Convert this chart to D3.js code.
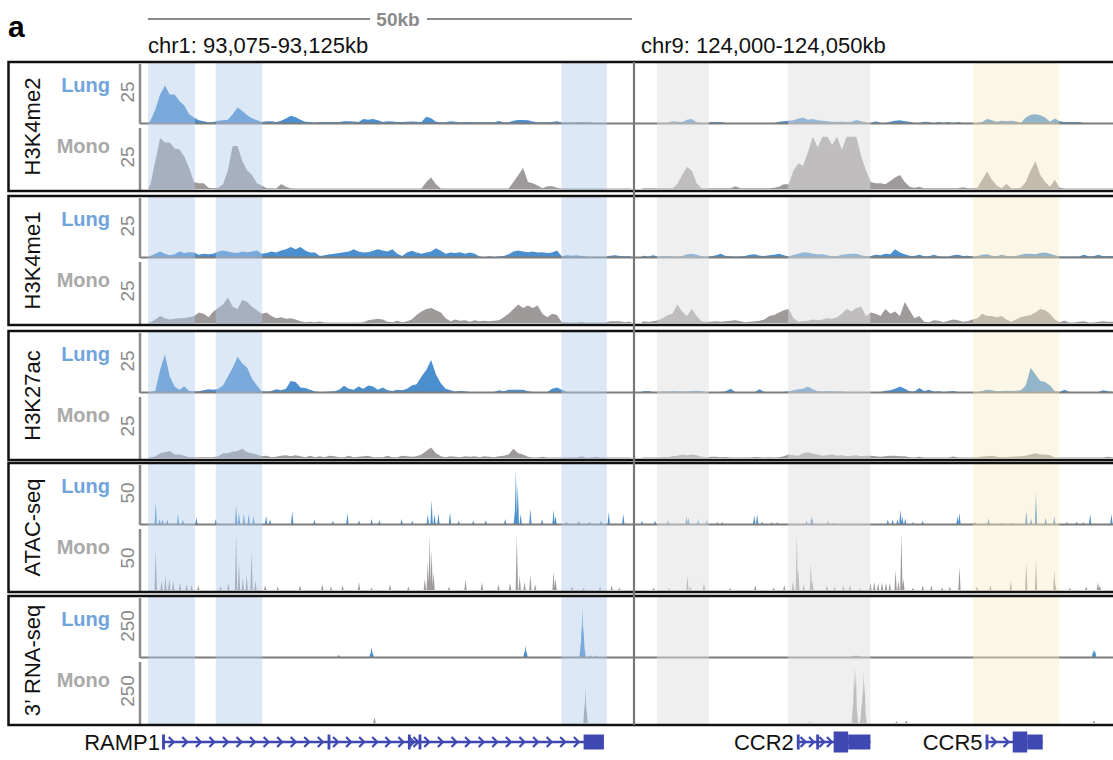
<!DOCTYPE html>
<html>
<head>
<meta charset="utf-8">
<script src="https://cdn.jsdelivr.net/npm/d3@7"></script>
<style>
body { margin: 0; background: #fff; }
svg { display: block; font-family: "Liberation Sans", Arial, Helvetica, sans-serif; }
</style>
</head>
<body>
<svg id="chart" width="1113" height="760"></svg>
<script>
// ---- data (kb offsets inside each 50kb window, 0.5kb bins for ChIP) ----
var regionNames = ["chr1: 93,075-93,125kb", "chr9: 124,000-124,050kb"];
var trackNames = ["H3K4me2", "H3K4me1", "H3K27ac", "ATAC-seq", "3\u2019 RNA-seq"];
var trackMax = [25, 25, 25, 50, 250];
var sampleNames = ["Lung", "Mono"];

var h3k4me2LungL = [1,6,13,17,13,13,10,8,4,2.5, 1.2,0.8,0.3,0.5,1,1.2,1.5,4,7,5.5, 3.5,2.2,1.2,0.5,0.8,0.8,0.5,1,2,3.3, 2.6,1.5,0.6,0.5,0.2,0.4,0.5,0.5,0.5,0.5, 0.8,0.8,0.7,0.5,1.8,1.5,1.8,1.2,0.5,0.8, 0.7,0.4,0.5,0.6,0.7,0.6,0.5,2.8,2.2,0.6, 0.3,0.3,0.8,0.6,0.3,0.5,0.5,0.3,0.4,0.3, 0.4,0.3,0.9,0.3,0.3,1,1.4,1.4,1.2,0.7, 0.3,0.3,0.3,0.5,0.8,0.2,0.2,0.2,0.3,0.3, 0.3,0.2,0,0,0,0,0,0,0,0];
var h3k4me2MonoL = [2,12,22,20,20,17.5,17,14,9,3, 2.5,2.5,0.5,0.3,0.5,2,8,18.5,18.5,12, 8,6,2.5,1.5,0.3,0.3,0.2,2.2,1,0.3, 0.2,0.2,0.2,0.2,0.2,0.2,0.2,0.2,0.2,0.2, 0.2,0.2,0.2,0.2,0.2,0.2,0.2,0.2,0.2,0.2, 0.2,0.2,0.2,0.2,0.2,0.2,0.2,3,5,2, 0.2,0.2,0.2,0.2,0.2,0.2,0.2,0.2,0.2,0.2, 0.2,0.2,0.2,0.2,0.2,3,6,9,3,2.5, 1.5,0.3,1.2,1.2,0.5,0.2,0.2,0.2,0.2,0.2, 0.2,0.2,0.2,0.2,0.2,0.2,0.2,0.2,0.2,0.2];
var h3k4me2LungR = [0,0,0,0,0,0,0.8,0.6,0.5,1.5, 1.8,0.3,0,0,0.5,0.5,0.5,0,0,0, 0,0,0,0,0,0,0,0,0.6,0.8, 1,1.2,2,2.5,1.5,1.8,1.2,1,0.8,0.6, 0.5,0.6,0.4,0.6,1.4,0.8,0.2,0,0.8,0, 0,0.6,1,1.2,0.8,0.6,0,0,0.6,0.4, 0,0.5,0,0.5,0,0.4,0,0,0,0, 0.5,1.8,1.2,0.6,1,0.8,1,0.7,0,2.5, 3.8,4,3.5,2.5,0.6,2,0.8,0.5,0.4,0.4, 0.4,0,0,0,0,0,0,0,0,0];
var h3k4me2MonoR = [0.3,0.3,0.3,0.3,0.3,0.3,0.3,2,6,9.5, 8,2.5,0.3,0.3,0.3,0.3,0.3,0.3,0.3,1.2, 0.3,0.3,0.3,0.3,0.3,0.3,0.3,0.5,1,2, 2,8,11,10,16,22.5,18,22.5,22.5,19, 22.5,17,22.5,22.5,22.5,14,8,3,2.5,2.5, 2,3.5,5,6,3,1,0.5,1,0.3,0.3, 0.3,0.3,0.3,0.3,0.3,0.3,0.8,0.3,0.3,0.5, 4,7.5,4,1.5,0.3,2.2,0.3,0.3,0.5,3, 8,12,6,3,1,4,0.5,0.2,0.2,0.2, 0.2,0.2,0.2,0.2,0.2,0.2,0.2,0.2,0.2,0.2];

var h3k4me1LungL = [0.4,1.5,2.5,1.5,0.8,1.2,2.5,1.8,2.2,2, 1,1.5,1.2,1.5,2.5,3,2.5,2,1.8,2.5, 2.2,2.5,3,1.5,1.8,2.5,2,3,3.5,4.5, 3.5,4.5,3,2,2,0.5,0.8,1.2,1.5,1.8, 2.2,2.5,3.5,2.5,2,2.2,2.8,3.5,3,2.5, 3.5,1.5,0.5,2,2.8,2,1.5,2,2.5,4, 2.8,1.5,2,1.8,2.2,1.5,2,1.5,0.2,0, 0.3,0,0.3,0.5,1.2,2.5,3,2.5,2.2,2.5, 2,2.2,1.8,2,3,0.3,0.8,0.6,0.8,0.5, 0.2,0.1,0.1,0.1,0.1,0.6,0.8,0.5,0.3,0.5];
var h3k4me1MonoL = [0.3,1.5,3,2,1.5,1.8,2,2.2,2.5,3, 4.5,4,2.5,5,6.5,8,11,7,6,10, 9,7,5.5,4,4.5,3,2,2.5,1.8,2, 1.5,0.8,0.3,0.5,0.3,0.6,0.2,0.2,0.2,0.2, 0.2,0.2,0.2,0.2,0.3,1.2,1.5,1.8,1.5,0.5, 0.3,1,0.3,0.8,1.5,3.5,5,6,6.5,5.5, 4.5,2,0.8,1.5,1,1.2,0.5,1.2,0.8,1, 0.8,1,1.2,2.5,4,6,8,6.5,7.5,6.5, 7.5,4,2.5,4,3.5,0.3,0.3,0.2,0.2,0.4, 0.2,0.2,0.2,0.2,0.2,0.8,0.8,0.8,0.3,0.6];
var h3k4me1LungR = [0.6,0.2,0.8,0.2,0.4,0.5,0.3,0.2,0.5,1.2, 1.5,1,0.3,0.2,0.3,0.8,1.5,0.4,0.3,0.2, 0.3,0.5,1,1.2,0.6,0.5,0.8,1,1.5,0.8, 0.2,1,1.5,2.2,2,1.5,1.2,1.2,0.8,0.3, 0.3,1,1.2,1.5,1.5,0.8,0.3,0.5,1,0.8, 1.5,1.2,3.5,2,1.2,0.6,0.5,1,0.3,0.3, 1,0.3,0.2,0.2,0.8,1,0.5,0.6,0.2,0.4, 1,1.2,0.6,0.3,1,0.5,0.3,0.5,1,1.5, 1.5,1.2,1.8,2,1.5,0.8,0.2,0.2,0.2,0.2, 0.2,1,0.3,0.3,1,0.3,0.5,0.5,0,0];
var h3k4me1MonoR = [0.8,0.4,0.8,1.2,2,3.5,4,8,5,3, 6,3,0.8,0.5,0.5,0.8,0.5,0.8,1,1.2, 0.8,0.3,0.5,0.8,1,1.5,3,3.5,4.5,5.5, 6,2,0.5,0.8,1,1.5,1.2,1.5,2,1.8, 2.5,4,6,5,6.5,7,3,4.5,4,3, 6,4,5,3,9,5.5,2,3,0.5,0.3, 1.2,1,0.3,1,1.5,1.2,0.5,0.8,1.5,2, 4,3,3,2.5,3,1.5,0.5,1.5,2.5,3, 3.5,4.5,6,5.5,4,1.5,0.3,1,0.2,0.2, 0.5,0.8,0.2,0.2,0.5,0.8,0.5,0.5,0,0];

var h3k27acLungL = [0,0.5,10,17,7,2.5,1,2.5,0.5,0.3, 0.3,0.8,1.2,1,1.5,3,7,11,16,13, 11,6,3,0.3,0.2,0.5,1.2,0.8,1.5,5, 4.5,2,1.8,1,0.2,0,0,0.2,0.3,1, 2.8,1.5,1,2.5,1.5,3,2.5,1,2,0.8, 0.5,1,0.8,1.5,3,3.5,7,10,14.5,8, 4,1.5,0.8,0.2,0.5,0.3,0,0,0,0, 0,0,0.8,0.3,1,1,1,1,0.3,0, 0,0,0,1.5,2,1,0,0,0,0, 0,0,0,0,0,0,0,0,0,0];
var h3k27acMonoL = [0.3,0.6,2,2.5,3,1.5,1.5,1,0.3,0.3, 0.3,0.3,0.3,0.3,0.8,2,2,2.8,3,4, 2.5,2,1.5,0.8,1,0.3,0.5,1,1.2,0.8, 1.2,0.8,0.3,1,0.3,0.8,0.3,1,0.8,0.3, 0.3,1,0.3,0.5,0.8,1,0.3,0.3,0.3,1, 0.3,0.3,1,0.8,0.5,0.8,1.5,3,4.5,2, 0.8,0.3,0.8,0.5,0.3,0.8,0.5,0.8,0.3,0.8, 0.5,0.3,0.8,1,1.5,4,2,1.5,0.5,0.2, 0.2,0.5,0.2,0.2,0.2,0.2,0.2,0.3,0.2,0.8, 0.2,0.2,0.5,0.2,0.2,0.2,0.2,0.2,0.2,0.2];
var h3k27acLungR = [0.3,0.5,0,0,0.3,0.2,0.4,0.3,0.2,0.3, 0.5,0.6,0.4,0,0,0,0,0.3,1.5,0, 0,0,0,0,1.2,0,0,0,0,0, 0.3,0.8,1.2,1.5,2.5,1.2,0.3,0.2,0.4,0.3, 0.2,0.2,0,0,0,0,0,0,0,0, 0.6,0.8,1.5,2.5,1.5,0.3,0.2,1.8,0.5,1, 0.2,0.3,0,0.2,0.5,0,0,0,0,0, 0.4,1,0.8,0.3,0.5,0.6,0.5,0.6,0.8,3, 11,8,5,4.5,3,0.3,0,1,0,0, 0,0,0,0,0,0.8,0.3,0,0,0];
var h3k27acMonoR = [0.2,0.2,0.2,0.2,0.4,0.3,0.8,1,1.5,1.2, 1.5,1.2,0.5,0.3,0.5,0.5,0.3,0.4,0.2,0.2, 0.2,0.2,0.2,0.4,0.3,0.2,0.3,0.2,0.3,0.8, 1.5,1.2,1,2,2.5,1.8,1.5,1,1.2,1.5, 1,1.2,0.8,1,1.2,0.8,1,1,0.8,0.5, 0.8,1,1,0.8,0.8,0.3,0.2,0.5,0.2,0.2, 0.2,0.2,0.2,0.2,0.6,0.2,0.2,0.2,0.2,0.3, 0.6,0.8,1,0.5,0.3,0.3,0.5,0.6,0.8,1, 1.5,2,1.5,1.5,1.2,0.2,0.2,0.2,0.2,0.2, 0.2,0.2,0.2,0.2,0.2,0.2,0.5,0.2,0.2,0.2];

// ATAC and RNA: [kb, value] peaks
var atacLungL = [[0.8,20],[1.2,4.5],[1.5,4.5],[2.0,4],[3.1,9],[3.6,4],[5.0,6],[7.0,4.5],[9.1,18],[9.4,10],[9.9,9.5],[10.4,9],[10.9,7],[12.2,7.5],[12.6,4],[14.9,12],[17.2,4],[19.1,3],[20.6,10],[21.8,3.5],[23.1,4.5],[23.9,3.5],[26.2,4.5],[27.3,3],[28.9,9],[29.3,22],[29.6,9],[30.0,10],[31.2,11],[32.1,3],[33.6,3],[34.9,3.5],[36.9,4.5],[37.9,12],[38.0,49],[38.2,36],[38.5,9],[39.5,14],[40.7,4.5],[41.9,13],[42.1,7.5],[43.2,2],[44.5,3],[45.6,2],[46.8,3],[47.6,11],[49.1,9]];
var atacMonoL = [[0.8,36],[1.4,8],[1.8,12],[2.2,10],[2.6,8],[3.3,6],[4.0,5],[4.5,4],[5.2,4],[7.5,3],[8.3,6],[9.1,49],[9.4,25],[9.8,10],[10.2,13],[10.7,33],[11.1,8],[12.1,4],[13.4,3],[15.7,4],[18.0,5],[18.9,3],[20.1,4],[21.8,7],[23.1,2],[25.0,5],[26.9,3],[28.6,10],[28.9,25],[29.1,47],[29.3,35],[29.5,15],[31.1,3],[32.8,9],[34.5,7],[36.2,5],[37.4,6],[38.1,48],[38.4,12],[38.9,7],[39.5,13],[40.0,5],[41.9,16],[42.1,10],[43.8,3],[45.0,2],[46.7,3],[47.9,4],[48.7,2]];
var atacLungR = [[0.1,3],[1.45,3],[2.8,3.5],[4.7,7],[4.9,6],[5.9,4],[6.8,3.5],[7.9,1.5],[8.4,1.5],[11.7,8],[12.0,9],[12.5,2],[13.5,1.5],[14.1,1.5],[17.1,3],[17.6,7],[17.7,5],[19.3,3],[19.9,1],[25.5,4],[26.0,4],[26.5,4],[26.8,13],[27.0,7],[27.3,5],[28.1,1.5],[29.1,3],[32.7,7],[32.9,10],[34.5,1.5],[35.9,5],[37.3,1],[38.3,1],[39.8,12],[40.3,5],[40.8,29],[41.8,6],[42.7,7],[44.0,1.5],[45.0,2],[45.7,1.5],[46.4,9],[48.6,9]];
var atacMonoR = [[1.3,2],[2.9,1.5],[4.8,12],[5.1,3],[6.5,6],[9.2,1.5],[11.8,4],[13.7,2],[14.8,4],[15.7,8],[16.1,48],[16.25,18],[16.8,5],[17.55,23],[17.7,8],[19.2,4],[20.0,3],[20.9,4],[21.6,4],[22.6,2],[23.7,6],[24.1,7],[24.5,6],[24.9,7],[25.3,6],[25.7,6],[26.3,17],[26.6,8],[26.9,49],[27.1,10],[28.1,2],[29.1,4],[30.0,4],[31.1,2],[31.9,3],[32.9,20],[34.7,3],[36.1,4],[38.2,8],[39.8,24],[40.8,26],[42.7,17],[42.8,5],[44.3,2],[46.0,3],[47.2,7],[47.4,4]];

var rnaLungL = [[19.7,10],[23.0,20],[23.1,45],[23.2,20],[38.9,25],[39.0,53],[39.1,25],[44.7,60],[44.8,150],[44.9,227],[45.0,130],[45.1,40],[45.7,8],[46.3,8]];
var rnaMonoL = [[23.4,26],[45.1,80],[45.2,155],[45.3,60]];
var rnaLungR = [[21.9,6],[22.1,8],[22.3,8],[22.5,6],[46.7,25],[46.8,36],[46.9,30]];
var rnaMonoR = [[17.4,4],[21.9,80],[22.0,200],[22.1,250],[22.2,230],[22.3,60],[22.7,20],[22.8,90],[22.9,150],[23.0,227],[23.1,180],[23.2,40],[26.4,8],[27.4,12],[46.8,12]];

// highlighted windows (kb)
var highlightsL = [[0, 4.85], [7.0, 11.8], [42.7, 47.4]];
var highlightsR = [[1.65, 7.0], [15.2, 23.7], [34.3, 43.2]];
var highlightKindL = ["lung", "lung", "lung"];
var highlightKindR = ["mono", "mono", "shared"];

// gene models (kb); exon = [start, end, tall]
var geneNames = ["RAMP1", "CCR2", "CCR5"];
var geneRegion = [0, 1, 1];
var geneSpan = [[1.55, 47.1], [16.1, 23.7], [35.6, 41.5]];
var geneExons = [
    [[1.45, 1.75, 0], [18.55, 18.75, 0], [26.85, 27.05, 0], [27.95, 28.15, 0], [45.0, 47.1, 0]],
    [[16.1, 16.35, 0], [18.1, 18.35, 0], [19.9, 21.4, 1], [21.4, 23.7, 0]],
    [[35.6, 35.85, 0], [38.4, 39.9, 1], [39.9, 41.5, 0]]
];

// ---- layout ----
var svg = d3.select("#chart");
var xs = [
    d3.scaleLinear().domain([0, 50]).range([148, 632]),
    d3.scaleLinear().domain([0, 50]).range([641, 1125])
];
var clipX = [[141, 633], [635, 1113]];
var boxTops = [62, 196, 331, 463, 596], boxH = 129;
var lungColor = "#4b8fce", monoColor = "#9f9a9a";
var labelColors = ["#6fa4dc", "#a9a9a9"];
var hlColor = {lung: "#b1cceb", mono: "#e0e0e0", shared: "#f6eac4"};
var hlOpacity = {lung: 0.45, mono: 0.5, shared: 0.42};

var binned = [
    [[h3k4me2LungL, h3k4me2LungR], [h3k4me2MonoL, h3k4me2MonoR]],
    [[h3k4me1LungL, h3k4me1LungR], [h3k4me1MonoL, h3k4me1MonoR]],
    [[h3k27acLungL, h3k27acLungR], [h3k27acMonoL, h3k27acMonoR]]
];
var spiky = [
    [[atacLungL, atacLungR], [atacMonoL, atacMonoR]],
    [[rnaLungL, rnaLungR], [rnaMonoL, rnaMonoR]]
];

// track geometry: [baseline offset, height]
var sampleGeom = [[61, 55], [127, 58]];

var defs = svg.append("defs");
var clipId = 0;
function addClip(x0, x1, y0, y1) {
    var id = "c" + (clipId++);
    defs.append("clipPath").attr("id", id)
        .append("rect").attr("x", x0).attr("y", y0).attr("width", x1 - x0).attr("height", y1 - y0);
    return "url(#" + id + ")";
}

// ---- header ----
svg.append("text").attr("x", 8).attr("y", 37).attr("font-size", 30).attr("font-weight", "bold").text("a");

var barMid = xs[0](25) + 8;
svg.append("line").attr("x1", xs[0](0)).attr("x2", barMid - 28).attr("y1", 19).attr("y2", 19)
    .attr("stroke", "#8a8a8a").attr("stroke-width", 2.2);
svg.append("line").attr("x1", barMid + 29).attr("x2", xs[0](50)).attr("y1", 19).attr("y2", 19)
    .attr("stroke", "#8a8a8a").attr("stroke-width", 2.2);
svg.append("text").attr("x", barMid).attr("y", 26).attr("text-anchor", "middle")
    .attr("font-size", 19).attr("font-weight", "bold").attr("fill", "#8a8a8a").text("50kb");

regionNames.forEach(function(n, r) {
    svg.append("text").attr("x", xs[r](0)).attr("y", 53).attr("font-size", 22).attr("fill", "#111").text(n);
});

// ---- boxes ----
boxTops.forEach(function(top, b) {
    var g = svg.append("g");
    var bottom = top + boxH;
    g.append("rect").attr("x", 8).attr("y", top).attr("width", 1130).attr("height", boxH).attr("fill", "#fff");

    [0, 1].forEach(function(s) {
        var base = top + sampleGeom[s][0], hgt = sampleGeom[s][1];
        var y = d3.scaleLinear().domain([0, trackMax[b]]).range([base, base - hgt]).clamp(true);
        var color = s === 0 ? lungColor : monoColor;
        [0, 1].forEach(function(r) {
            var x = xs[r];
            var clip = addClip(clipX[r][0], clipX[r][1], base - hgt - 1, base + 0.5);
            var area = d3.area().x(function(d) { return x(d[0]); }).y0(base).y1(function(d) { return y(d[1]); });
            if (b < 3) {
                var vals = binned[b][s][r];
                var pts = [[0, 0]];
                vals.forEach(function(v, i) { pts.push([i * 0.5 + 0.25, v]); });
                pts.push([50, 0]);
                g.append("path").attr("d", area(pts)).attr("fill", color).attr("clip-path", clip);
            } else {
                var w = b === 3 ? 0.12 : 0.13;
                var d = spiky[b - 3][s][r].map(function(p) {
                    return area([[p[0] - w, 0], [p[0], p[1]], [p[0] + w, 0]]);
                }).join("");
                g.append("path").attr("d", d).attr("fill", color).attr("clip-path", clip);
            }
        });
        if (s === 0) {
            g.append("line").attr("x1", 140).attr("x2", 1113).attr("y1", base + 0.5).attr("y2", base + 0.5)
                .attr("stroke", "#7d7d7d").attr("stroke-width", 2);
        }
    });

    // highlight windows over the signal
    [[highlightsL, highlightKindL], [highlightsR, highlightKindR]].forEach(function(h, r) {
        h[0].forEach(function(win, i) {
            var k = h[1][i];
            g.append("rect").attr("x", xs[r](win[0])).attr("y", top)
                .attr("width", xs[r](win[1]) - xs[r](win[0])).attr("height", boxH)
                .attr("fill", hlColor[k]).attr("fill-opacity", hlOpacity[k]);
        });
    });

    // axis lines and labels
    g.append("line").attr("x1", 140).attr("x2", 140).attr("y1", top + 2).attr("y2", top + 62)
        .attr("stroke", "#8a8a8a").attr("stroke-width", 2.5);
    g.append("line").attr("x1", 140).attr("x2", 140).attr("y1", top + 66).attr("y2", bottom)
        .attr("stroke", "#8a8a8a").attr("stroke-width", 2.5);

    sampleNames.forEach(function(n, s) {
        g.append("text").attr("x", 110).attr("y", top + (s === 0 ? 30 : 91))
            .attr("text-anchor", "end").attr("font-size", 20).attr("font-weight", "bold")
            .attr("fill", labelColors[s]).text(n);
        var cy = top + (s === 0 ? 30 : 95);
        g.append("text").attr("transform", "translate(127," + cy + ") rotate(-90)")
            .attr("text-anchor", "middle").attr("dominant-baseline", "central")
            .attr("font-size", 19).attr("fill", "#8a8a8a").text(trackMax[b]);
    });

    g.append("text").attr("transform", "translate(32," + (top + boxH / 2) + ") rotate(-90)")
        .attr("text-anchor", "middle").attr("dominant-baseline", "central")
        .attr("font-size", 22).attr("fill", "#111").text(trackNames[b]);

    g.append("rect").attr("x", 8.5).attr("y", top).attr("width", 1130).attr("height", boxH)
        .attr("fill", "none").attr("stroke", "#111").attr("stroke-width", 2.5);
});

svg.append("line").attr("x1", 634).attr("x2", 634).attr("y1", boxTops[0]).attr("y2", boxTops[4] + boxH)
    .attr("stroke", "#777").attr("stroke-width", 2.2);

// ---- gene track ----
var geneY = 742, geneColor = "#3f48b2";
var gg = svg.append("g");
geneNames.forEach(function(name, i) {
    var x = xs[geneRegion[i]];
    var span = geneSpan[i];
    gg.append("line").attr("x1", x(span[0])).attr("x2", x(span[1])).attr("y1", geneY).attr("y2", geneY)
        .attr("stroke", geneColor).attr("stroke-width", 2.4);
    var ex = geneExons[i];
    // chevrons along the introns
    for (var k = 0; k < ex.length - 1; k++) {
        var a = x(ex[k][1]), e = x(ex[k + 1][0]);
        var len = e - a;
        if (len < 6) continue;
        var n = Math.max(2, Math.round(len / 14));
        for (var j = 0; j < n; j++) {
            var cx = a + (j + 0.5) * len / n;
            gg.append("path").attr("d", "M" + (cx - 3) + "," + (geneY - 5) + "L" + (cx + 2) + "," + geneY + "L" + (cx - 3) + "," + (geneY + 5))
                .attr("fill", "none").attr("stroke", geneColor).attr("stroke-width", 2.2);
        }
    }
    ex.forEach(function(e) {
        var h = e[2] ? 21 : 15;
        gg.append("rect").attr("x", x(e[0])).attr("y", geneY - h / 2)
            .attr("width", Math.max(2.8, x(e[1]) - x(e[0]))).attr("height", h).attr("fill", geneColor);
    });
    gg.append("text").attr("x", x(span[0]) - 3).attr("y", geneY + 8).attr("text-anchor", "end")
        .attr("font-size", 22).attr("fill", "#111").text(name);
});
</script>
</body>
</html>
